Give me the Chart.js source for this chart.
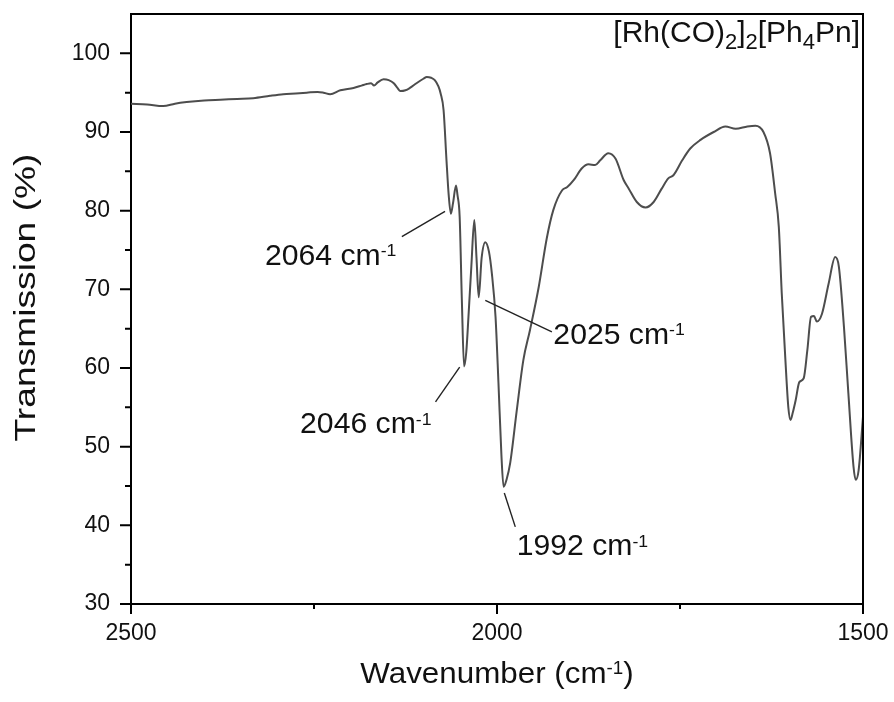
<!DOCTYPE html>
<html lang="en">
<head>
<meta charset="UTF-8">
<title>IR spectrum [Rh(CO)2]2[Ph4Pn]</title>
<script src="https://cdn.jsdelivr.net/npm/chart.js"></script>
<style>
  html, body { margin: 0; padding: 0; background: #fff; }
  #wrap { width: 894px; height: 702px; }
</style>
</head>
<body>
<div id="wrap"><canvas id="irChart" width="894" height="702"></canvas></div>
<script>
// spectrum (cm-1 / %T)
const wavenumbers = [
  2500, 2478, 2456, 2440, 2424, 2400, 2378, 2355, 2333, 2310, 2292, 2275, 2260, 2245, 2237, 2228,
  2214, 2196, 2185, 2178, 2172, 2168, 2163, 2155, 2148, 2141, 2136, 2132, 2125, 2119, 2110, 2100,
  2096, 2090, 2085, 2080, 2077, 2073, 2069, 2066, 2063, 2060, 2056, 2054, 2051, 2048, 2045, 2042,
  2039, 2035, 2031, 2028, 2025, 2021, 2016, 2011, 2007, 2002, 1998, 1994, 1991, 1987, 1982, 1973,
  1964, 1955, 1943, 1932, 1923, 1911, 1904, 1895, 1884, 1875, 1866, 1859, 1848, 1838, 1827, 1820,
  1809, 1797, 1786, 1775, 1766, 1759, 1747, 1736, 1722, 1704, 1688, 1674, 1658, 1647, 1636, 1627,
  1620, 1615, 1611, 1606, 1602, 1599, 1596, 1592, 1587, 1581, 1576, 1571, 1567, 1563, 1556, 1547,
  1538, 1533, 1526, 1520, 1513, 1510, 1506, 1500
];
const transmission = [
  93.6, 93.5, 93.3, 93.6, 93.8, 94.0, 94.1, 94.2, 94.3, 94.6, 94.8, 94.9, 95.0, 95.1, 95.0, 94.8,
  95.3, 95.6, 95.9, 96.1, 96.2, 95.9, 96.3, 96.7, 96.6, 96.2, 95.6, 95.2, 95.3, 95.6, 96.2, 96.8,
  97.0, 96.9, 96.6, 95.8, 94.9, 92.8, 86.4, 82.0, 79.6, 81.0, 83.2, 82.0, 79.2, 68.6, 60.2, 62.0,
  66.5, 73.0, 78.8, 74.0, 69.0, 74.0, 76.0, 74.8, 72.0, 66.5, 58.1, 49.0, 44.9, 45.8, 47.9, 54.6,
  61.0, 64.8, 70.3, 76.5, 80.1, 82.6, 83.0, 83.9, 85.4, 85.9, 85.8, 86.4, 87.3, 86.6, 83.9, 82.8,
  81.1, 80.4, 81.1, 82.8, 84.1, 84.5, 86.4, 87.9, 89.0, 90.0, 90.7, 90.4, 90.7, 90.8, 90.0, 87.3,
  82.2, 77.9, 69.5, 61.0, 55.0, 53.4, 54.3, 55.9, 58.2, 58.7, 62.3, 66.5, 66.6, 65.9, 66.9, 70.7,
  74.1, 72.9, 65.2, 56.8, 47.5, 45.8, 47.0, 53.8
];

const xMajorTicks = [2500, 2000, 1500];
const xMinorTicks = [2250, 1750];
const yMajorTicks = [30, 40, 50, 60, 70, 80, 90, 100];
const yMinorTicks = [35, 45, 55, 65, 75, 85, 95];

const yTitle = 'Transmission (%)';
const xTitle = [['Wavenumber (cm', 0], ['-1', 1], [')', 0]];

// marked bands
const peakNames = ['2064', '2046', '2025', '1992'];
const compoundName = [['[Rh(CO)', 0], ['2', -1], [']', 0], ['2', -1], ['[Ph', 0], ['4', -1], ['Pn]', 0]];

// where each band label sits, and its leader line (in axis units)
const peakLabelPos = [
  { text: [2317, 73.1], from: [2130, 76.7], to: [2071, 79.9] },
  { text: [2269, 51.7], from: [2084, 55.7], to: [2051, 60.1] },
  { text: [1923, 63.1], from: [2016, 68.6], to: [1925, 64.6] },
  { text: [1973, 36.2], from: [1990, 44.1], to: [1975, 39.8] }
];

const FONT = "'Liberation Sans', Arial, sans-serif";

// text made of normal / superscript (1) / subscript (-1) pieces
function richFont(k, size) {
  const s = k === 0 ? size : (k > 0 ? Math.round(size * 0.6) : Math.round(size * 0.74));
  return s + 'px ' + FONT;
}
function richWidth(ctx, parts, size) {
  let w = 0;
  parts.forEach(p => { ctx.font = richFont(p[1], size); w += ctx.measureText(p[0]).width; });
  return w;
}
function drawRich(ctx, parts, x, y, align, size) {
  const total = richWidth(ctx, parts, size);
  let cx = align === 'right' ? x - total : (align === 'center' ? x - total / 2 : x);
  ctx.textBaseline = 'alphabetic';
  ctx.textAlign = 'left';
  parts.forEach(p => {
    ctx.font = richFont(p[1], size);
    let dy = 0;
    if (p[1] > 0) dy = -size * 0.3;
    if (p[1] < 0) dy = size * 0.22;
    ctx.fillText(p[0], cx, y + dy);
    cx += ctx.measureText(p[0]).width;
  });
}

const decorations = {
  id: 'decorations',
  afterDraw(chart) {
    const ctx = chart.ctx;
    const xs = chart.scales.x, ys = chart.scales.y;
    const a = chart.chartArea;
    ctx.save();

    // frame on top and right
    ctx.strokeStyle = '#000';
    ctx.lineWidth = 2;
    ctx.beginPath();
    ctx.moveTo(a.left - 1, a.top);
    ctx.lineTo(a.right, a.top);
    ctx.lineTo(a.right, a.bottom + 1);
    ctx.stroke();

    // outward ticks
    ctx.beginPath();
    yMajorTicks.forEach(v => { const p = ys.getPixelForValue(v); ctx.moveTo(a.left, p); ctx.lineTo(a.left - 11, p); });
    yMinorTicks.forEach(v => { const p = ys.getPixelForValue(v); ctx.moveTo(a.left, p); ctx.lineTo(a.left - 6, p); });
    xMajorTicks.forEach(v => { const p = xs.getPixelForValue(v); ctx.moveTo(p, a.bottom); ctx.lineTo(p, a.bottom + 10); });
    xMinorTicks.forEach(v => { const p = xs.getPixelForValue(v); ctx.moveTo(p, a.bottom); ctx.lineTo(p, a.bottom + 5); });
    ctx.stroke();

    // band labels
    ctx.fillStyle = '#111';
    ctx.strokeStyle = '#222';
    ctx.lineWidth = 1.4;
    peakLabelPos.forEach((pos, i) => {
      ctx.beginPath();
      ctx.moveTo(xs.getPixelForValue(pos.from[0]), ys.getPixelForValue(pos.from[1]));
      ctx.lineTo(xs.getPixelForValue(pos.to[0]), ys.getPixelForValue(pos.to[1]));
      ctx.stroke();
      ctx.save();
      const lx = xs.getPixelForValue(pos.text[0]);
      ctx.translate(lx, 0);
      ctx.scale(1.04, 1);
      drawRich(ctx, [[peakNames[i] + ' cm', 0], ['-1', 1]], 0, ys.getPixelForValue(pos.text[1]), 'left', 29);
      ctx.restore();
    });

    // compound name, top right
    drawRich(ctx, compoundName, xs.getPixelForValue(1504), ys.getPixelForValue(101.45), 'right', 30);

    // x axis title (slightly stretched, as in the figure)
    ctx.save();
    ctx.translate((a.left + a.right) / 2, 683);
    ctx.scale(1.045, 1);
    drawRich(ctx, xTitle, 0, 0, 'center', 30);
    ctx.restore();

    // y axis title (stretched along its length, as in the figure)
    ctx.save();
    ctx.translate(35, 297.5);
    ctx.rotate(-Math.PI / 2);
    ctx.scale(1.24, 1);
    ctx.font = '30px ' + FONT;
    ctx.textAlign = 'center';
    ctx.textBaseline = 'alphabetic';
    ctx.fillText(yTitle, 0, 0);
    ctx.restore();

    ctx.restore();
  }
};

const points = wavenumbers.map((w, i) => ({ x: w, y: transmission[i] }));

new Chart(document.getElementById('irChart'), {
  type: 'line',
  data: {
    datasets: [{
      data: points,
      borderColor: '#4d4d4d',
      borderWidth: 2,
      pointRadius: 0,
      cubicInterpolationMode: 'monotone',
      fill: false
    }]
  },
  options: {
    responsive: false,
    animation: false,
    devicePixelRatio: 1,
    layout: { padding: { top: 14, right: 31, left: 0, bottom: 0 } },
    plugins: { legend: { display: false }, tooltip: { enabled: false } },
    scales: {
      x: {
        type: 'linear',
        reverse: true,
        min: 1500,
        max: 2500,
        afterFit(s) { s.height = 98; s.paddingLeft = 0; s.paddingRight = 0; },
        border: { display: true, color: '#000', width: 2 },
        grid: { display: true, drawOnChartArea: false, drawTicks: false },
        ticks: {
          stepSize: 500,
          padding: 16,
          color: '#111',
          font: { family: FONT, size: 23 },
          maxRotation: 0,
          callback: v => (xMajorTicks.includes(v) ? String(v) : '')
        }
      },
      y: {
        min: 30,
        max: 105,
        afterFit(s) { s.width = 131; s.paddingTop = 0; s.paddingBottom = 0; },
        border: { display: true, color: '#000', width: 2 },
        grid: { display: true, drawOnChartArea: false, drawTicks: false },
        ticks: {
          stepSize: 10,
          padding: 21,
          color: '#111',
          font: { family: FONT, size: 23 },
          callback: v => (yMajorTicks.includes(v) ? String(v) : '')
        }
      }
    }
  },
  plugins: [decorations]
});
</script>
</body>
</html>
